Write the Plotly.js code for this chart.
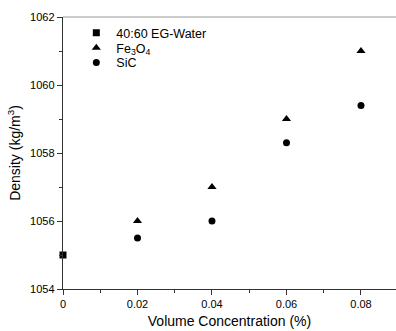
<!DOCTYPE html>
<html><head><meta charset="utf-8">
<script src="https://cdn.plot.ly/plotly-3.0.1.min.js"></script>
<style>html,body{margin:0;padding:0;background:#fff}#chart{width:396px;height:331px}</style>
</head><body><div id="chart"></div>
<script>
const waterX = [0];
const waterY = [1055];
const fe3o4X = [0.02, 0.04, 0.06, 0.08];
const fe3o4Y = [1056, 1057, 1059, 1061];
const sicX = [0.02, 0.04, 0.06, 0.08];
const sicY = [1055.5, 1056, 1058.3, 1059.4];
const xTicks = [0, 0.02, 0.04, 0.06, 0.08];
const xTickLabels = ['0', '0.02', '0.04', '0.06', '0.08'];
const yTicks = [1054, 1056, 1058, 1060, 1062];

const font = {family: 'Liberation Sans, Arial, sans-serif', color: '#000'};
const traces = [
  {x: waterX, y: waterY, type: 'scatter', mode: 'markers', name: '40:60 EG-Water', legend: 'legend',
   marker: {symbol: 'square', size: 7, color: '#000'}, cliponaxis: false},
  {x: fe3o4X, y: fe3o4Y, type: 'scatter', mode: 'markers', name: 'Fe<sub>3</sub>O<sub>4</sub>', legend: 'legend2',
   marker: {symbol: 'triangle-up', size: 8, color: '#000'}, cliponaxis: false},
  {x: sicX, y: sicY, type: 'scatter', mode: 'markers', name: 'SiC', legend: 'legend3',
   marker: {symbol: 'circle', size: 7, color: '#000'}, cliponaxis: false}
];
function leg(y) {
  return {x: 0.04, y: y, xanchor: 'left', yanchor: 'middle', bgcolor: 'rgba(0,0,0,0)',
          font: Object.assign({size: 12.5}, font), itemwidth: 30};
}
const layout = {
  width: 396, height: 331,
  margin: {l: 63, r: 0, t: 17, b: 42},
  paper_bgcolor: '#fff', plot_bgcolor: '#fff',
  font: Object.assign({size: 11}, font),
  showlegend: true,
  legend: leg(0.941),
  legend2: leg(0.886),
  legend3: leg(0.831),
  xaxis: {range: [0, 0.0894], tickvals: xTicks, ticktext: xTickLabels,
          showgrid: false, zeroline: false, showline: true, linecolor: '#333', linewidth: 1.2,
          ticks: 'outside', ticklen: 5, tickcolor: '#333',
          minor: {dtick: 0.01, ticks: 'outside', ticklen: 3, tickcolor: '#333', showgrid: false},
          tickfont: Object.assign({size: 11}, font),
          title: {text: 'Volume Concentration (%)', font: Object.assign({size: 14}, font), standoff: 6}},
  yaxis: {range: [1054, 1062], tickvals: yTicks,
          showgrid: false, zeroline: false, showline: true, linecolor: '#333', linewidth: 1.2,
          ticks: 'outside', ticklen: 5, tickcolor: '#333',
          minor: {dtick: 1, ticks: 'outside', ticklen: 3, tickcolor: '#333', showgrid: false},
          tickfont: Object.assign({size: 11}, font),
          title: {text: 'Density (kg/m<sup>3</sup>)', font: Object.assign({size: 14}, font), standoff: 6}},
  shapes: [{type: 'line', xref: 'paper', yref: 'paper', x0: 0, x1: 1, y0: 1, y1: 1,
            line: {color: '#999', width: 1.2}}]
};
Plotly.newPlot('chart', traces, layout, {displayModeBar: false, staticPlot: true});
</script></body></html>
